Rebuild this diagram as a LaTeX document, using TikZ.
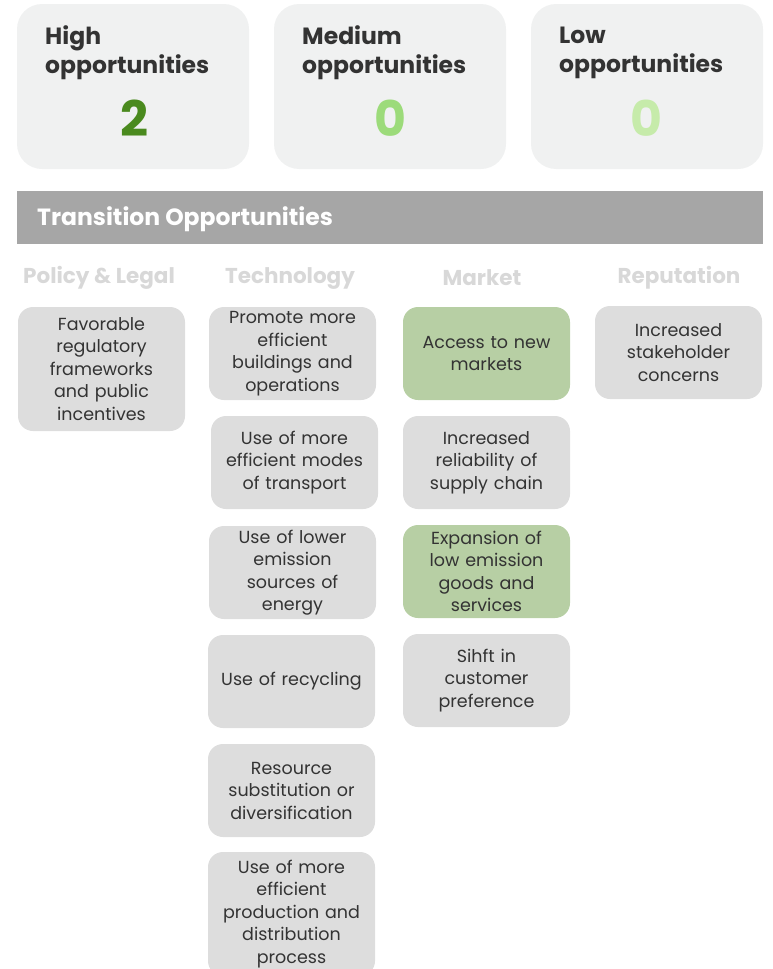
\documentclass[tikz,border=0pt]{standalone}
\usepackage{fontspec}
\setmainfont{Poppins}
\usepackage{tikz}

\definecolor{cardgray}{HTML}{F0F1F1}
\definecolor{boxgray}{HTML}{DDDDDD}
\definecolor{boxgreen}{HTML}{B7CFA4}
\definecolor{bannergray}{HTML}{A6A6A6}
\definecolor{inkgray}{HTML}{333333}
\definecolor{headgray}{HTML}{D8D8D8}
\definecolor{highgreen}{HTML}{4A8A1E}
\definecolor{medgreen}{HTML}{9CDB7A}
\definecolor{lowgreen}{HTML}{C6EBAA}

\begin{document}
\begin{tikzpicture}[x=1pt,y=-1pt,
  card/.style={fill=cardgray,rounded corners=25pt,minimum width=232pt,minimum height=165pt,inner sep=0pt},
  card_title/.style={anchor=west,align=left,inner sep=0pt,text=inkgray,font=\fontsize{23.5}{29}\selectfont\bfseries},
  card_count/.style={font=\fontsize{49}{49}\selectfont\bfseries},
  col_head/.style={text=headgray,font=\fontsize{21.5}{24}\selectfont\bfseries},
  opp_box/.style={fill=boxgray,rounded corners=15pt,minimum width=167pt,minimum height=93pt,text width=163pt,align=center,inner sep=0pt,text=inkgray,font=\fontsize{17.5}{22.5}\selectfont},
  opp_high/.style={opp_box,fill=boxgreen}]

    \useasboundingbox (0,0) rectangle (772,969);

    \node[card] (1) at (133, 86.5) {};
    \node[card] (2) at (390, 86.5) {};
    \node[card] (3) at (647, 86.5) {};
    \node[card_title] (4) at (45, 53) {High\\opportunities};
    \node[card_title] (5) at (302, 53) {Medium\\opportunities};
    \node[card_title] (6) at (559, 53) {Low\\opportunities};
    \node[card_count,text=highgreen] (7) at (134, 118) {2};
    \node[card_count,text=medgreen] (8) at (390, 118) {0};
    \node[card_count,text=lowgreen] (9) at (646, 118) {0};

    \fill[bannergray] (17,191) rectangle (763,244);
    \node[anchor=west,inner sep=0pt,text=white,font=\fontsize{23.5}{26}\selectfont\bfseries] (10) at (37, 219) {Transition Opportunities};

    \node[col_head] (11) at (99, 278) {Policy \& Legal};
    \node[col_head] (12) at (290, 278) {Technology};
    \node[col_head] (13) at (482, 278) {Market};
    \node[col_head] (14) at (679, 278) {Reputation};

    \node[opp_box,minimum height=124pt] (15) at (101.5, 369) {Favorable\\regulatory\\frameworks\\and public\\incentives};

    \node[opp_box] (16) at (292.5, 353.5) {Promote more\\efficient\\buildings and\\operations};
    \node[opp_box] (17) at (294.5, 462.5) {Use of more\\efficient modes\\of transport};
    \node[opp_box] (18) at (292.5, 572.5) {Use of lower\\emission\\sources of\\energy};
    \node[opp_box] (19) at (291.5, 681.5) {Use of recycling};
    \node[opp_box] (20) at (291.5, 790.5) {Resource\\substitution or\\diversification};
    \node[opp_box,minimum height=124pt] (21) at (291.5, 914) {Use of more\\efficient\\production and\\distribution\\process};

    \node[opp_high] (22) at (486.5, 353.5) {Access to new\\markets};
    \node[opp_box] (23) at (486.5, 462.5) {Increased\\reliability of\\supply chain};
    \node[opp_high] (24) at (486.5, 571.5) {Expansion of\\low emission\\goods and\\services};
    \node[opp_box] (25) at (486.5, 680.5) {Sihft in\\customer\\preference};

    \node[opp_box] (26) at (678.5, 352.5) {Increased\\stakeholder\\concerns};

\end{tikzpicture}
\end{document}
